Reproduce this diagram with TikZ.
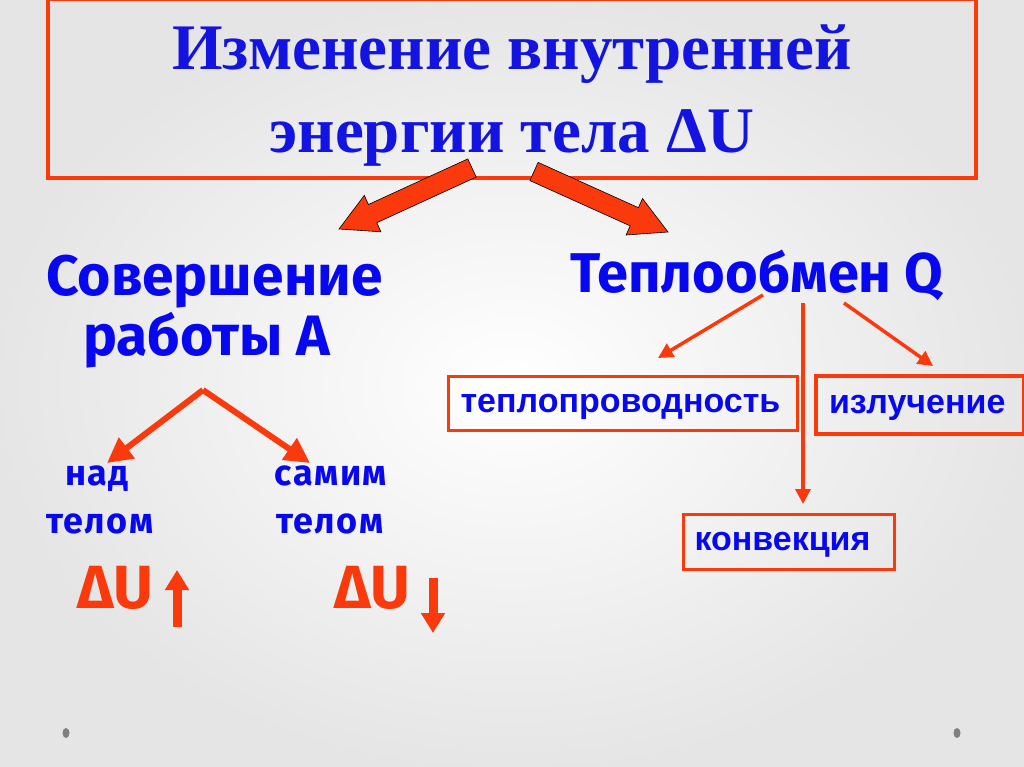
\documentclass[tikz,border=0pt]{standalone}
\usepackage{fontspec}
\setmainfont{Liberation Serif}
\newfontfamily\hfont{Fira Sans}
\newfontfamily\sfont{Fira Sans}[LetterSpace=4]
\newfontfamily\afont{Liberation Sans}
\usetikzlibrary{arrows.meta}
\definecolor{acc}{RGB}{250,58,12}
\definecolor{tblue}{RGB}{20,20,225}
\definecolor{sblue}{RGB}{8,8,240}
\begin{document}
\begin{tikzpicture}[x=1pt,y=-1pt,
  titletext/.style={font=\fontsize{65}{65}\selectfont\bfseries, text=tblue, anchor=base, inner sep=0},
  headtext/.style={font=\hfont\fontsize{57}{57}\selectfont\bfseries, text=sblue, anchor=base west, inner sep=0},
  subtext/.style={font=\sfont\fontsize{36}{36}\selectfont\bfseries, text=sblue, anchor=base, inner sep=0},
  dutext/.style={font=\hfont\fontsize{61}{61}\selectfont\bfseries, text=acc, anchor=base west, inner sep=0},
  lblbox/.style={draw=acc, line width=3pt, font=\afont\fontsize{34}{34}\selectfont\bfseries, text=sblue,
     align=left, minimum height=54pt, inner ysep=0pt, text height=17pt, text depth=0pt},
  thinarrow/.style={draw=acc, line width=3.5pt, -{Triangle[length=15pt,width=15pt]}},
  thickarrow/.style={draw=acc, line width=6pt, -{Triangle[length=25pt,width=25pt]}},
  updown/.style={draw=acc, line width=9pt, -{Triangle[length=20pt,width=23pt]}},
  blockarrow/.style={fill=acc, draw=black, line width=0.6pt, line join=miter}
]
\useasboundingbox (0,0) rectangle (1024,767);
\shade[inner color=white, outer color=black!10] (0,0) rectangle (1024,767);
\fill[black!50] (66,733) ellipse (3.5 and 5);
\fill[black!50] (957,733) ellipse (3.5 and 5);

% title box
\draw[draw=acc, line width=3.5pt] (48,-1) rectangle (976,178);
\node[titletext] (t1) at (512,70) {Изменение внутренней};
\node[titletext] (t2) at (512,153) {энергии тела ΔU};

% block arrows
\draw[blockarrow] (467.8,158.9) -- (368.4,204.5) -- (364.3,195.4) -- (339,229) -- (380.9,231.8) -- (376.8,222.7) -- (476.2,177.1) -- cycle;
\draw[blockarrow] (538.1,162.4) -- (638.4,207.7) -- (642.5,198.6) -- (668,232) -- (626.1,235.0) -- (630.2,225.9) -- (529.9,180.6) -- cycle;

% headers
\node[headtext] (work1) at (46,295) {Совершение};
\node[headtext] (work2) at (83,355) {работы А};
\node[headtext, font=\hfont\fontsize{56}{56}\selectfont\bfseries] (heat) at (570,292) {Теплообмен Q};

% left branch
\coordinate (apex) at (203,390);
\coordinate (nadtip) at (107,463);
\coordinate (samtip) at (310,463);
\draw[thickarrow] (apex) -- (nadtip);
\draw[thickarrow] (apex) -- (samtip);
\node[subtext] (nad) at (97,485) {над};
\node[subtext] (samim) at (331,485) {самим};
\node[subtext] (telo1) at (100,533) {телом};
\node[subtext] (telo2) at (330,533) {телом};
\node[dutext] (du1) at (77,608) {ΔU};
\node[dutext] (du2) at (334,608) {ΔU};
\coordinate (up0) at (177,627);
\coordinate (up1) at (177,570);
\coordinate (dn0) at (433,578);
\coordinate (dn1) at (433,633);
\draw[updown] (up0) -- (up1);
\draw[updown] (dn0) -- (dn1);

% right branch boxes
\node[lblbox, anchor=north west, inner xsep=12pt, text width=325pt] (cond) at (447,375) {теплопроводность};
\node[lblbox, anchor=north west, inner xsep=13pt, text width=182pt, line width=4pt, minimum height=58pt] (rad) at (814,374) {излучение};
\node[lblbox, anchor=north west, inner xsep=11pt, text width=189pt, minimum height=55pt] (conv) at (682,513) {конвекция};

\coordinate (h1) at (763,295);
\coordinate (h1t) at (658,358);
\coordinate (h2) at (803,303);
\coordinate (h2t) at (803,504);
\coordinate (h3) at (844,303);
\coordinate (h3t) at (933,366);
\draw[thinarrow] (h1) -- (h1t);
\draw[thinarrow] (h2) -- (h2t);
\draw[thinarrow] (h3) -- (h3t);
\end{tikzpicture}
\end{document}
